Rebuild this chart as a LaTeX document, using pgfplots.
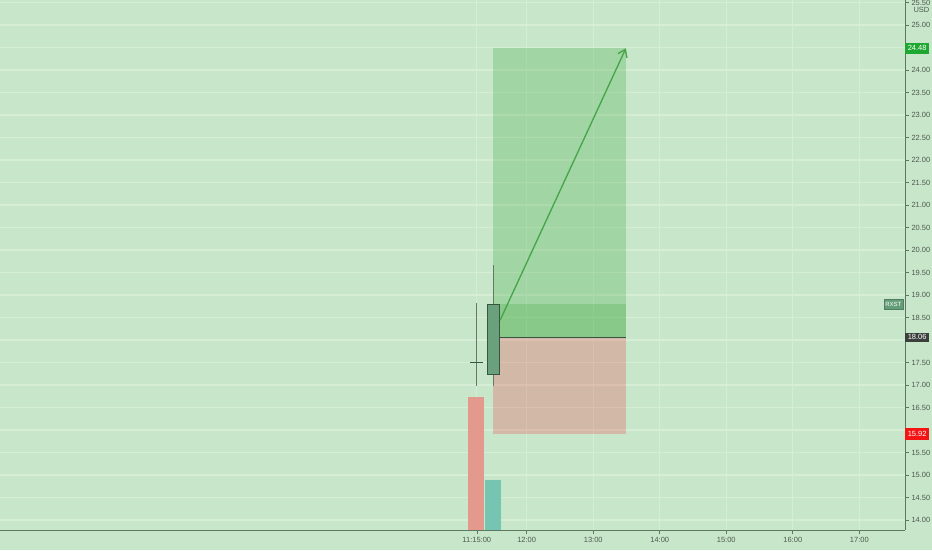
\documentclass[border=0pt]{standalone}
\usepackage{fontspec}
\setmainfont{Liberation Sans}
\usepackage{pgfplots}
\pgfplotsset{compat=1.18}
\usetikzlibrary{arrows.meta}

\definecolor{bg}{RGB}{200,230,201}
\definecolor{gridc}{RGB}{214,237,214}
\definecolor{axisc}{RGB}{95,120,98}
\definecolor{txt}{RGB}{78,90,80}
\definecolor{tvgreen}{RGB}{76,175,80}
\definecolor{tvred}{RGB}{242,54,69}
\definecolor{arrowc}{RGB}{67,165,71}
\definecolor{candle}{RGB}{107,160,125}
\definecolor{candleb}{RGB}{55,85,65}
\definecolor{wick}{RGB}{105,118,106}
\definecolor{volred}{RGB}{227,154,141}
\definecolor{volteal}{RGB}{118,196,178}
\definecolor{tagg}{RGB}{30,168,50}
\definecolor{tagd}{RGB}{60,64,60}
\definecolor{tagr}{RGB}{245,20,20}
\definecolor{tagx}{RGB}{100,158,120}

\begin{document}
\begin{tikzpicture}[font=\fontsize{7.5}{9}\selectfont]
\fill[bg] (0,0) rectangle (932pt,550pt);
\useasboundingbox (0,0) rectangle (932pt,550pt);
\begin{axis}[
    at={(0pt,20pt)}, anchor=south west,
    scale only axis, width=905pt, height=530pt,
    xmin=4.082, xmax=17.687, ymin=13.778, ymax=25.556,
    clip=false,
    axis x line*=bottom, axis y line*=right,
    axis line style={axisc, line width=0.8pt},
    xtick={11.25,12,13,14,15,16,17},
    xticklabels={11:15:00,12:00,13:00,14:00,15:00,16:00,17:00},
    ytick={14,14.5,15,15.5,16,16.5,17,17.5,18,18.5,19,19.5,20,20.5,21,21.5,22,22.5,23,23.5,24,24.5,25,25.5},
    yticklabels={14.00,14.50,15.00,15.50,,16.50,17.00,17.50,,18.50,19.00,19.50,20.00,20.50,21.00,21.50,22.00,22.50,23.00,23.50,24.00,,25.00,25.50},
    tick align=outside, major tick length=4pt,
    tick style={axisc, line width=0.6pt},
    ticklabel style={text=txt, font=\fontsize{7.5}{9}\selectfont},
    yticklabel style={xshift=-1pt},
    grid=major,
    major y grid style={gridc, line width=1.1pt},
    major x grid style={white, opacity=0.25, line width=0.8pt},
]
% volume bars
\addplot[fill=volred, draw=none] coordinates {(11.12,13.778) (11.36,13.778) (11.36,16.73) (11.12,16.73)} -- cycle;
\addplot[fill=volteal, draw=none] coordinates {(11.375,13.778) (11.615,13.778) (11.615,14.90) (11.375,14.90)} -- cycle;

% long position: profit zone, reached part, loss zone
\addplot[fill=tvgreen, fill opacity=0.3, draw=none] coordinates {(11.5,18.06) (13.5,18.06) (13.5,24.48) (11.5,24.48)} -- cycle;
\addplot[fill=tvgreen, fill opacity=0.3, draw=none] coordinates {(11.5,18.06) (13.5,18.06) (13.5,18.80) (11.5,18.80)} -- cycle;
\addplot[fill=tvred, fill opacity=0.25, draw=none] coordinates {(11.5,15.92) (13.5,15.92) (13.5,18.06) (11.5,18.06)} -- cycle;
\addplot[draw=candleb, line width=0.8pt] coordinates {(11.5,18.06) (13.5,18.06)};

% candles
\addplot[draw=wick, line width=0.7pt] coordinates {(11.25,16.98) (11.25,18.82)};
\addplot[draw=candleb, line width=0.8pt] coordinates {(11.155,17.50) (11.345,17.50)};
\addplot[draw=wick, line width=0.7pt] coordinates {(11.5,16.98) (11.5,19.67)};
\addplot[fill=candle, draw=candleb, line width=0.8pt] coordinates {(11.405,17.24) (11.595,17.24) (11.595,18.79) (11.405,18.79)} -- cycle;

% arrow
\addplot[draw=arrowc, line width=1.3pt, -{Straight Barb[length=7pt,width=10pt]}] coordinates {(11.6,18.44) (13.49,24.48)};

\coordinate (tp) at (axis cs:17.687,24.48);
\coordinate (en) at (axis cs:17.687,18.06);
\coordinate (sl) at (axis cs:17.687,15.92);
\coordinate (sy) at (axis cs:17.687,18.80);
\end{axis}
\node[fill=tagg, text=white, anchor=west, inner xsep=2.6pt, inner ysep=0pt, minimum height=10.5pt] at (tp) {24.48};
\node[fill=tagd, text=white, anchor=west, inner xsep=2.6pt, inner ysep=0pt, minimum height=9.5pt] at (en) {18.06};
\node[fill=tagr, text=white, anchor=west, inner xsep=2.6pt, inner ysep=0pt, minimum height=12pt] at (sl) {15.92};
\node[fill=tagx, draw=tagx!80!black, line width=0.3pt, text=white, anchor=east, inner xsep=1.5pt, inner ysep=0pt, minimum height=10pt, font=\fontsize{6}{7}\selectfont] at ([xshift=-2pt]sy) {RXST};
\node[text=txt, anchor=west] at (910pt,540pt) {USD};
\end{tikzpicture}
\end{document}
